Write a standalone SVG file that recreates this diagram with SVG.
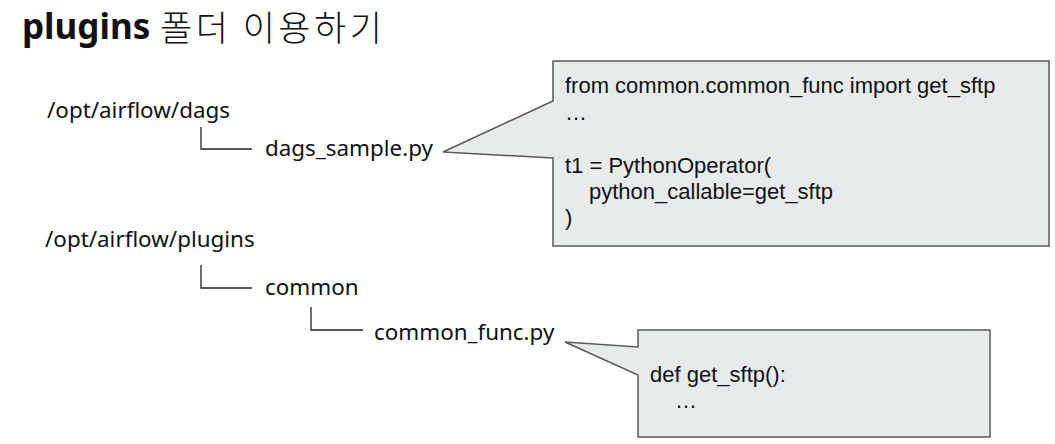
<svg xmlns="http://www.w3.org/2000/svg" width="1055" height="444" viewBox="0 0 1055 444">
<style>
.tree{font-family:"Noto Sans","DejaVu Sans",sans-serif;font-size:22.4px;fill:#111}
.code{font-family:"Liberation Sans",Arial,sans-serif;font-size:22px;fill:#111}
.box{fill:#e8ebec;stroke:#595959;stroke-width:1.5}
.ln{fill:none;stroke:#222;stroke-width:1.3}
</style>
<rect width="1055" height="444" fill="#fff"/>
<g id="title">
<text x="22" y="39" font-family="'Noto Sans',sans-serif" font-weight="700" font-size="35" fill="#111">plugins</text>
<text x="160" y="41" font-family="'Noto Sans CJK KR',sans-serif" font-weight="300" font-size="35" fill="#111" letter-spacing="3.5">폴더 이용하기</text>
</g>
<g id="n-dags"><text class="tree" x="47" y="118">/opt/airflow/dags</text></g>
<g id="n-dags-sample"><text class="tree" x="265" y="156">dags_sample.py</text></g>
<g id="n-plugins"><text class="tree" x="45" y="247">/opt/airflow/plugins</text></g>
<g id="n-common"><text class="tree" x="265" y="295">common</text></g>
<g id="n-common-func"><text class="tree" x="374" y="340">common_func.py</text></g>
<g id="callout-dags">
<path class="box" d="M553,61 H1049 V246 H553 V158 L443,152 L553,101 Z"/>
<text class="code" x="565" y="93">from common.common_func import get_sftp</text>
<text class="code" x="565" y="120">…</text>
<text class="code" x="565" y="173">t1 = PythonOperator(</text>
<text class="code" x="589" y="199">python_callable=get_sftp</text>
<text class="code" x="565" y="225">)</text>
</g>
<g id="callout-func">
<path class="box" d="M638,330 H990 V437 H638 V375 L565,342 L638,347 Z"/>
<text class="code" x="650" y="382">def get_sftp():</text>
<text class="code" x="675" y="408">…</text>
</g>
<g id="connectors">
<path class="ln" d="M201,127 V149 H252"/>
<path class="ln" d="M201,265 V288 H252"/>
<path class="ln" d="M311,307 V330 H363"/>
</g>
</svg>
